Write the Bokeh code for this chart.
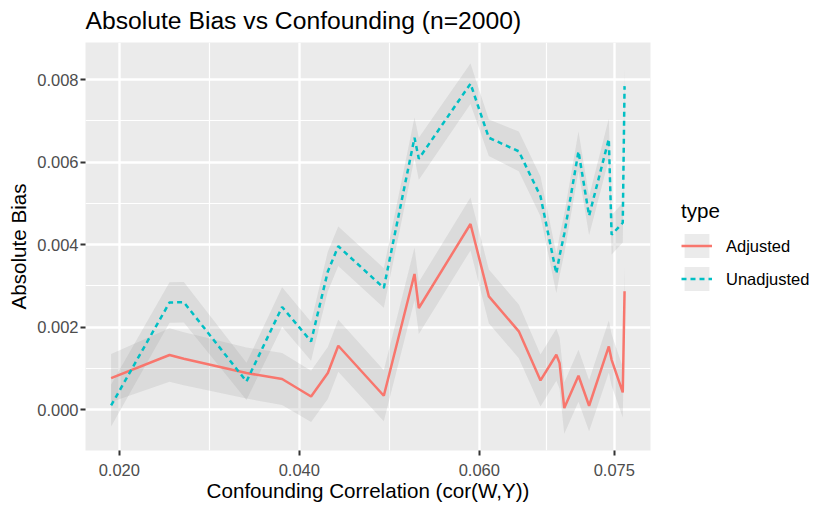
from bokeh.plotting import figure
from bokeh.layouts import row
from bokeh.models import (Range1d, FixedTicker, NumeralTickFormatter, Legend,
                          LegendItem, ColumnDataSource, Spacer)
from bokeh.embed import file_html
from bokeh.resources import INLINE

# ---- data ----
corr = [0.01909, 0.02558, 0.02717, 0.03413, 0.03809, 0.04131, 0.04317, 0.04433,
        0.04939, 0.05280, 0.05328, 0.05902, 0.06106, 0.06439, 0.06680, 0.06856,
        0.06892, 0.06944, 0.07102, 0.07220, 0.07439, 0.07470, 0.07594, 0.07614]

adjusted = [0.000768, 0.001326, 0.001235, 0.000890, 0.000744, 0.000322, 0.000890, 0.001550,
            0.000340, 0.003290, 0.002465, 0.004500, 0.002747, 0.001900, 0.000710, 0.001333,
            0.001130, 0.000040, 0.000824, 0.000097, 0.001535, 0.001210, 0.000420, 0.002870]
adjusted_se = [0.00058, 0.00065, 0.00064, 0.00062, 0.00063, 0.00062, 0.00063, 0.00063,
               0.00062, 0.00064, 0.00063, 0.00064, 0.00065, 0.00065, 0.00063, 0.00063,
               0.00062, 0.00062, 0.00063, 0.00062, 0.00063, 0.00062, 0.00061, 0.00061]

unadjusted = [0.000104, 0.002600, 0.002605, 0.000686, 0.002490, 0.001656, 0.003350, 0.003960,
              0.002950, 0.006590, 0.006080, 0.007900, 0.006590, 0.006260, 0.005170, 0.003300,
              0.003730, 0.004260, 0.006260, 0.004700, 0.006560, 0.004240, 0.004530, 0.007840]
unadjusted_se = [0.00051, 0.00049, 0.00049, 0.00045, 0.00048, 0.00047, 0.00048, 0.00048,
                 0.00048, 0.00049, 0.00051, 0.00049, 0.00044, 0.00048, 0.00048, 0.00048,
                 0.00048, 0.00048, 0.00048, 0.00047, 0.00049, 0.00048, 0.00048, 0.00048]

series_labels = ["Adjusted", "Unadjusted"]
x_ticks = [0.020, 0.040, 0.060, 0.075]
x_minor = [0.030, 0.050, 0.0675]
y_ticks = [0.000, 0.002, 0.004, 0.006, 0.008]
y_minor = [0.001, 0.003, 0.005, 0.007]

FONT = "Liberation Sans"

src_adj = ColumnDataSource(dict(
    x=corr, y=adjusted,
    lo=[v - s for v, s in zip(adjusted, adjusted_se)],
    hi=[v + s for v, s in zip(adjusted, adjusted_se)]))
src_un = ColumnDataSource(dict(
    x=corr, y=unadjusted,
    lo=[v - s for v, s in zip(unadjusted, unadjusted_se)],
    hi=[v + s for v, s in zip(unadjusted, unadjusted_se)]))

p = figure(frame_width=565, frame_height=408, output_backend="svg", toolbar_location=None,
           x_range=Range1d(0.016244, 0.079022), y_range=Range1d(-0.000987, 0.008897),
           min_border_left=0, min_border_right=0, min_border_top=0, min_border_bottom=0)

p.background_fill_color = "#EBEBEB"
p.border_fill_color = "white"
p.outline_line_color = None

p.xaxis.ticker = FixedTicker(ticks=x_ticks, minor_ticks=x_minor)
p.yaxis.ticker = FixedTicker(ticks=y_ticks, minor_ticks=y_minor)
p.xaxis.formatter = NumeralTickFormatter(format="0.000")
p.yaxis.formatter = NumeralTickFormatter(format="0.000")

for g in (p.xgrid, p.ygrid):
    g.grid_line_color = "white"
    g.grid_line_width = 2.4
    g.minor_grid_line_color = "white"
    g.minor_grid_line_width = 1.2

for ax in (p.xaxis, p.yaxis):
    ax.axis_line_color = None
    ax.major_tick_line_color = "#333333"
    ax.major_tick_line_width = 2
    ax.major_tick_out = 5
    ax.major_tick_in = 0
    ax.minor_tick_line_color = None
    ax.major_label_text_font = FONT
    ax.major_label_text_font_size = "16.5px"
    ax.major_label_text_color = "#4D4D4D"
    ax.axis_label_text_font = FONT
    ax.axis_label_text_font_size = "20.6px"
    ax.axis_label_text_font_style = "normal"
    ax.axis_label_text_color = "black"

p.xaxis.major_label_standoff = 8
p.xaxis.axis_label_standoff = 0
p.yaxis.major_label_standoff = 2
p.yaxis.axis_label_standoff = 4

p.xaxis.axis_label = "Confounding Correlation (cor(W,Y))"
p.yaxis.axis_label = "Absolute Bias"

p.title.text = "Absolute Bias vs Confounding (n=2000)"
p.title.text_font = FONT
p.title.text_font_size = "24.7px"
p.title.text_font_style = "normal"
p.title.text_color = "black"
p.title.align = "left"
p.title.vertical_align = "top"
p.title.standoff = 13

# ribbons first, then lines (ggplot layer order)
rib_adj = p.varea(x="x", y1="lo", y2="hi", source=src_adj, fill_color="#999999", fill_alpha=0.2)
rib_un = p.varea(x="x", y1="lo", y2="hi", source=src_un, fill_color="#999999", fill_alpha=0.2)
ln_adj = p.line(x="x", y="y", source=src_adj, line_color="#F8766D", line_width=2.5)
ln_un = p.line(x="x", y="y", source=src_un, line_color="#00BFC4", line_width=2.5, line_dash="5 4")

# legend key background (empty glyph, only drawn in legend)
key_bg = p.varea(x=[], y1=[], y2=[], fill_color="#E6E6E6", fill_alpha=1.0)

legend = Legend(items=[LegendItem(label=series_labels[0], renderers=[key_bg, rib_adj, ln_adj]),
                       LegendItem(label=series_labels[1], renderers=[key_bg, rib_un, ln_un])],
                title="type", location="center_left")
legend.title_text_font = FONT
legend.title_text_font_size = "20.6px"
legend.title_text_font_style = "normal"
legend.title_text_color = "black"
legend.title_standoff = 8
legend.label_text_font = FONT
legend.label_text_font_size = "16.5px"
legend.label_text_color = "black"
legend.glyph_width = 31
legend.glyph_height = 30
legend.spacing = 3
legend.label_standoff = 14
legend.padding = 0
legend.margin = 31
legend.border_line_color = None
legend.background_fill_alpha = 0
p.add_layout(legend, "right")

page = row(Spacer(width=4), p)

open("out.html", "w").write(file_html(page, INLINE))
